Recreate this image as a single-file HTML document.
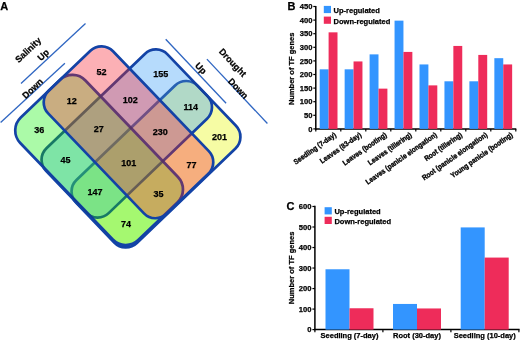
<!DOCTYPE html>
<html><head><meta charset="utf-8"><title>Figure</title><style>
*{margin:0;padding:0}
html,body{width:520px;height:340px;overflow:hidden;background:#fff}
svg{display:block;filter:blur(0.3px)}
text{font-family:"Liberation Sans",sans-serif;font-weight:bold;fill:#000;stroke:#000;stroke-width:0.25px}
.n{font-size:9px;text-anchor:middle}
.lb{font-size:9px}
.tk{font-size:7.6px}
.pl{font-size:11px}
.at{font-size:7.5px}
.lg{font-size:7.5px}
.cb{font-size:7.3px;stroke-width:0.35px}
.cc{font-size:7.5px}
</style></head>
<body><svg width="520" height="340" viewBox="0 0 520 340">
<rect width="520" height="340" fill="#fff"/>
<text x="0.2" y="9.7" class="pl">A</text>
<g transform="rotate(1.2 128 145)"><g transform="matrix(0.70710678 0.70710678 0.70710678 -0.70710678 0 0)">
<defs>
<clipPath id="clY"><rect x="138.95" y="-89.10" width="89.87" height="168.29" rx="16" ry="16" fill="#000" fill-opacity="1.0" stroke="none" stroke-width="0" /><rect x="98.99" y="-88.39" width="169.71" height="90.30" rx="18" ry="18" fill="#000" fill-opacity="1.0" stroke="none" stroke-width="0" /><rect x="98.99" y="-47.80" width="170.41" height="89.87" rx="16" ry="16" fill="#000" fill-opacity="1.0" stroke="none" stroke-width="0" /></clipPath>
<clipPath id="clB"><rect x="98.99" y="-88.39" width="169.71" height="90.30" rx="18" ry="18" fill="#000" fill-opacity="1.0" stroke="none" stroke-width="0" /><rect x="98.99" y="-47.80" width="170.41" height="89.87" rx="16" ry="16" fill="#000" fill-opacity="1.0" stroke="none" stroke-width="0" /></clipPath>
<clipPath id="clG"><rect x="98.99" y="-47.80" width="170.41" height="89.87" rx="16" ry="16" fill="#000" fill-opacity="1.0" stroke="none" stroke-width="0" /></clipPath>
</defs>
<rect x="182.65" y="-89.45" width="87.26" height="168.64" rx="16" ry="16" fill="#E8F714" fill-opacity="0.389" stroke="#1343A6" stroke-width="2.7" />
<rect x="138.95" y="-89.10" width="89.87" height="168.29" rx="16" ry="16" fill="#4FA9F7" fill-opacity="0.417" stroke="#1343A6" stroke-width="2.7" />
<rect x="98.99" y="-88.39" width="169.71" height="90.30" rx="18" ry="18" fill="#26F320" fill-opacity="0.389" stroke="#1343A6" stroke-width="2.7" />
<rect x="98.99" y="-47.80" width="170.41" height="89.87" rx="16" ry="16" fill="#F83A45" fill-opacity="0.399" stroke="none" stroke-width="0" />
<rect x="182.65" y="-89.45" width="87.26" height="168.64" rx="16" ry="16" fill="none" fill-opacity="1" stroke="#000" stroke-width="2.7" stroke-opacity="0.1" clip-path="url(#clY)"/>
<rect x="138.95" y="-89.10" width="89.87" height="168.29" rx="16" ry="16" fill="none" fill-opacity="1" stroke="#000" stroke-width="2.7" stroke-opacity="0.1" clip-path="url(#clB)"/>
<rect x="98.99" y="-88.39" width="169.71" height="90.30" rx="18" ry="18" fill="none" fill-opacity="1" stroke="#000" stroke-width="2.7" stroke-opacity="0.1" clip-path="url(#clG)"/>
<rect x="98.99" y="-47.80" width="170.41" height="89.87" rx="16" ry="16" fill="none" fill-opacity="1" stroke="#1343A6" stroke-width="2.7" />
</g></g>
<text x="101.4" y="75.3" class="n">52</text>
<text x="160.8" y="76.7" class="n">155</text>
<text x="71.8" y="103.8" class="n">12</text>
<text x="130.3" y="103.2" class="n">102</text>
<text x="190.7" y="109.7" class="n">114</text>
<text x="39.3" y="133.1" class="n">36</text>
<text x="98.7" y="132.4" class="n">27</text>
<text x="160.2" y="135.4" class="n">230</text>
<text x="219.4" y="140.2" class="n">201</text>
<text x="65.4" y="163.3" class="n">45</text>
<text x="128.8" y="166.2" class="n">101</text>
<text x="191.5" y="167.9" class="n">77</text>
<text x="95" y="194.8" class="n">147</text>
<text x="158.4" y="197.4" class="n">35</text>
<text x="126.1" y="227.0" class="n">74</text>
<line x1="21" y1="83.5" x2="85.5" y2="23.4" stroke="#2F66C2" stroke-width="1.3"/>
<line x1="0.6" y1="122.6" x2="64.9" y2="63.2" stroke="#2F66C2" stroke-width="1.3"/>
<line x1="165.7" y1="39.3" x2="226.1" y2="103.2" stroke="#2F66C2" stroke-width="1.3"/>
<line x1="206.9" y1="59.1" x2="267.4" y2="123.5" stroke="#2F66C2" stroke-width="1.3"/>
<text transform="translate(18.7 63.2) rotate(-43.5)" class="lb">Salinity</text>
<text transform="translate(41 61.3) rotate(-43.5)" class="lb">Up</text>
<text transform="translate(25.7 99.2) rotate(-43.5)" class="lb">Down</text>
<text transform="translate(218.4 52) rotate(46.5)" class="lb">Drought</text>
<text transform="translate(194.5 66) rotate(46.5)" class="lb">Up</text>
<text transform="translate(227.5 81.8) rotate(46.5)" class="lb">Down</text>
<line x1="315.8" y1="6.0" x2="315.8" y2="129.65" stroke="#000" stroke-width="1.5"/>
<line x1="315.05" y1="128.9" x2="516.3" y2="128.9" stroke="#000" stroke-width="1.5"/>
<line x1="313.3" y1="128.90" x2="315.8" y2="128.90" stroke="#000" stroke-width="1.2"/>
<text x="312.40000000000003" y="131.60" class="tk" text-anchor="end">0</text>
<line x1="313.3" y1="115.30" x2="315.8" y2="115.30" stroke="#000" stroke-width="1.2"/>
<text x="312.40000000000003" y="118.00" class="tk" text-anchor="end">50</text>
<line x1="313.3" y1="101.70" x2="315.8" y2="101.70" stroke="#000" stroke-width="1.2"/>
<text x="312.40000000000003" y="104.40" class="tk" text-anchor="end">100</text>
<line x1="313.3" y1="88.10" x2="315.8" y2="88.10" stroke="#000" stroke-width="1.2"/>
<text x="312.40000000000003" y="90.80" class="tk" text-anchor="end">150</text>
<line x1="313.3" y1="74.50" x2="315.8" y2="74.50" stroke="#000" stroke-width="1.2"/>
<text x="312.40000000000003" y="77.20" class="tk" text-anchor="end">200</text>
<line x1="313.3" y1="60.90" x2="315.8" y2="60.90" stroke="#000" stroke-width="1.2"/>
<text x="312.40000000000003" y="63.60" class="tk" text-anchor="end">250</text>
<line x1="313.3" y1="47.30" x2="315.8" y2="47.30" stroke="#000" stroke-width="1.2"/>
<text x="312.40000000000003" y="50.00" class="tk" text-anchor="end">300</text>
<line x1="313.3" y1="33.70" x2="315.8" y2="33.70" stroke="#000" stroke-width="1.2"/>
<text x="312.40000000000003" y="36.40" class="tk" text-anchor="end">350</text>
<line x1="313.3" y1="20.10" x2="315.8" y2="20.10" stroke="#000" stroke-width="1.2"/>
<text x="312.40000000000003" y="22.80" class="tk" text-anchor="end">400</text>
<line x1="313.3" y1="6.50" x2="315.8" y2="6.50" stroke="#000" stroke-width="1.2"/>
<text x="312.40000000000003" y="9.20" class="tk" text-anchor="end">450</text>
<line x1="315.80" y1="128.9" x2="315.80" y2="131.5" stroke="#000" stroke-width="1.2"/>
<line x1="340.80" y1="128.9" x2="340.80" y2="131.5" stroke="#000" stroke-width="1.2"/>
<line x1="365.80" y1="128.9" x2="365.80" y2="131.5" stroke="#000" stroke-width="1.2"/>
<line x1="390.80" y1="128.9" x2="390.80" y2="131.5" stroke="#000" stroke-width="1.2"/>
<line x1="415.80" y1="128.9" x2="415.80" y2="131.5" stroke="#000" stroke-width="1.2"/>
<line x1="440.80" y1="128.9" x2="440.80" y2="131.5" stroke="#000" stroke-width="1.2"/>
<line x1="465.80" y1="128.9" x2="465.80" y2="131.5" stroke="#000" stroke-width="1.2"/>
<line x1="490.80" y1="128.9" x2="490.80" y2="131.5" stroke="#000" stroke-width="1.2"/>
<line x1="515.80" y1="128.9" x2="515.80" y2="131.5" stroke="#000" stroke-width="1.2"/>
<rect x="319.70" y="69.33" width="8.9" height="59.57" fill="#3395FF"/>
<rect x="328.60" y="32.34" width="8.9" height="96.56" fill="#EE2C5A"/>
<rect x="344.65" y="69.33" width="8.9" height="59.57" fill="#3395FF"/>
<rect x="353.55" y="61.44" width="8.9" height="67.46" fill="#EE2C5A"/>
<rect x="369.60" y="54.37" width="8.9" height="74.53" fill="#3395FF"/>
<rect x="378.50" y="88.64" width="8.9" height="40.26" fill="#EE2C5A"/>
<rect x="394.55" y="20.64" width="8.9" height="108.26" fill="#3395FF"/>
<rect x="403.45" y="51.92" width="8.9" height="76.98" fill="#EE2C5A"/>
<rect x="419.50" y="64.44" width="8.9" height="64.46" fill="#3395FF"/>
<rect x="428.40" y="85.38" width="8.9" height="43.52" fill="#EE2C5A"/>
<rect x="444.45" y="81.30" width="8.9" height="47.60" fill="#3395FF"/>
<rect x="453.35" y="45.94" width="8.9" height="82.96" fill="#EE2C5A"/>
<rect x="469.40" y="81.30" width="8.9" height="47.60" fill="#3395FF"/>
<rect x="478.30" y="54.92" width="8.9" height="73.98" fill="#EE2C5A"/>
<rect x="494.35" y="58.18" width="8.9" height="70.72" fill="#3395FF"/>
<rect x="503.25" y="64.44" width="8.9" height="64.46" fill="#EE2C5A"/>
<text transform="translate(336.80 135.9) rotate(-35) scale(0.89 1)" class="cb" text-anchor="end">Seedling (7-day)</text>
<text transform="translate(362.00 135.9) rotate(-35) scale(0.89 1)" class="cb" text-anchor="end">Leaves (83-day)</text>
<text transform="translate(387.20 135.9) rotate(-35) scale(0.89 1)" class="cb" text-anchor="end">Leaves (booting)</text>
<text transform="translate(412.40 135.9) rotate(-35) scale(0.89 1)" class="cb" text-anchor="end">Leaves (tillering)</text>
<text transform="translate(437.60 135.9) rotate(-35) scale(0.89 1)" class="cb" text-anchor="end">Leaves (panicle elongation)</text>
<text transform="translate(462.80 135.9) rotate(-35) scale(0.89 1)" class="cb" text-anchor="end">Root (tillering)</text>
<text transform="translate(488.00 135.9) rotate(-35) scale(0.89 1)" class="cb" text-anchor="end">Root (panicle elongation)</text>
<text transform="translate(513.20 135.9) rotate(-35) scale(0.89 1)" class="cb" text-anchor="end">Young panicle (booting)</text>
<text x="287.6" y="9.7" class="pl">B</text>
<text transform="translate(294.4 68.8) rotate(-90)" class="at" text-anchor="middle">Number of TF genes</text>
<rect x="323.8" y="5.9" width="7.2" height="7.2" fill="#3395FF"/>
<rect x="323.8" y="16.6" width="7.2" height="7.2" fill="#EE2C5A"/>
<text x="333.6" y="12.8" class="lg">Up-regulated</text>
<text x="333.6" y="23.5" class="lg">Down-regulated</text>
<line x1="314.9" y1="205.68" x2="314.9" y2="330.35" stroke="#000" stroke-width="1.5"/>
<line x1="314.15" y1="329.6" x2="519.6" y2="329.6" stroke="#000" stroke-width="1.5"/>
<line x1="312.4" y1="329.60" x2="314.9" y2="329.60" stroke="#000" stroke-width="1.2"/>
<text x="311.5" y="332.30" class="tk" text-anchor="end">0</text>
<line x1="312.4" y1="309.08" x2="314.9" y2="309.08" stroke="#000" stroke-width="1.2"/>
<text x="311.5" y="311.78" class="tk" text-anchor="end">100</text>
<line x1="312.4" y1="288.56" x2="314.9" y2="288.56" stroke="#000" stroke-width="1.2"/>
<text x="311.5" y="291.26" class="tk" text-anchor="end">200</text>
<line x1="312.4" y1="268.04" x2="314.9" y2="268.04" stroke="#000" stroke-width="1.2"/>
<text x="311.5" y="270.74" class="tk" text-anchor="end">300</text>
<line x1="312.4" y1="247.52" x2="314.9" y2="247.52" stroke="#000" stroke-width="1.2"/>
<text x="311.5" y="250.22" class="tk" text-anchor="end">400</text>
<line x1="312.4" y1="227.00" x2="314.9" y2="227.00" stroke="#000" stroke-width="1.2"/>
<text x="311.5" y="229.70" class="tk" text-anchor="end">500</text>
<line x1="312.4" y1="206.48" x2="314.9" y2="206.48" stroke="#000" stroke-width="1.2"/>
<text x="311.5" y="209.18" class="tk" text-anchor="end">600</text>
<line x1="314.90" y1="329.6" x2="314.90" y2="332.20000000000005" stroke="#000" stroke-width="1.2"/>
<line x1="382.90" y1="329.6" x2="382.90" y2="332.20000000000005" stroke="#000" stroke-width="1.2"/>
<line x1="450.90" y1="329.6" x2="450.90" y2="332.20000000000005" stroke="#000" stroke-width="1.2"/>
<line x1="518.90" y1="329.6" x2="518.90" y2="332.20000000000005" stroke="#000" stroke-width="1.2"/>
<rect x="325.50" y="269.27" width="24.0" height="60.33" fill="#3395FF"/>
<rect x="349.50" y="308.26" width="24.0" height="21.34" fill="#EE2C5A"/>
<rect x="393.00" y="303.95" width="24.0" height="25.65" fill="#3395FF"/>
<rect x="417.00" y="308.46" width="24.0" height="21.14" fill="#EE2C5A"/>
<rect x="460.70" y="227.41" width="24.0" height="102.19" fill="#3395FF"/>
<rect x="484.70" y="257.57" width="24.0" height="72.03" fill="#EE2C5A"/>
<text x="349.50" y="337.6" class="cc" text-anchor="middle">Seedling (7-day)</text>
<text x="417.00" y="337.6" class="cc" text-anchor="middle">Root (30-day)</text>
<text x="484.70" y="337.6" class="cc" text-anchor="middle">Seedling (10-day)</text>
<text x="286.6" y="209.5" class="pl">C</text>
<text transform="translate(294.4 267.9) rotate(-90)" class="at" text-anchor="middle">Number of TF genes</text>
<rect x="324.6" y="207.2" width="7.2" height="7.2" fill="#3395FF"/>
<rect x="324.6" y="216.8" width="7.2" height="7.2" fill="#EE2C5A"/>
<text x="334.4" y="213.9" class="lg">Up-regulated</text>
<text x="334.4" y="223.5" class="lg">Down-regulated</text>
</svg></body></html>
